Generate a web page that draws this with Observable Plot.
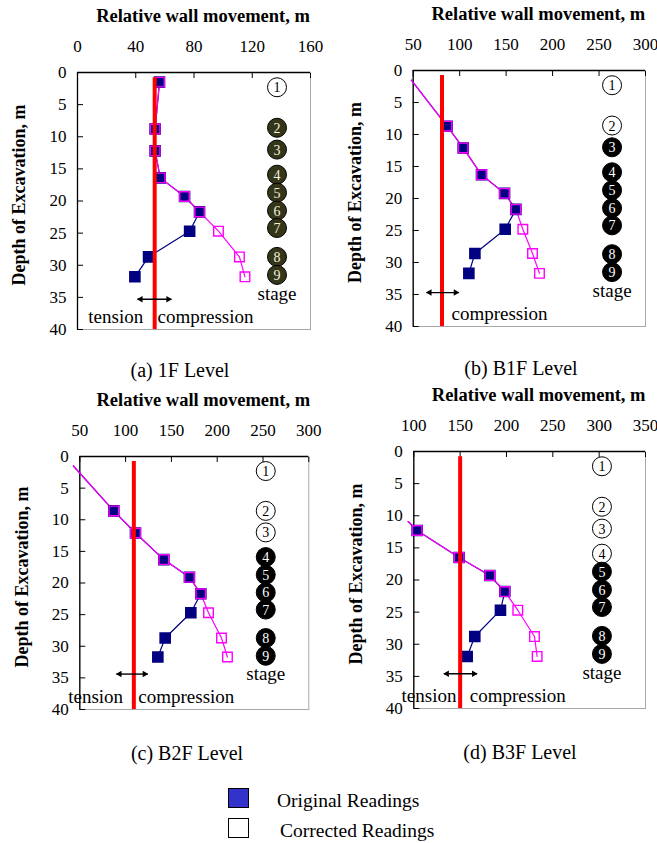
<!DOCTYPE html>
<html>
<head>
<meta charset="utf-8">
<script src="https://cdn.jsdelivr.net/npm/d3@7"></script>
<script src="https://cdn.jsdelivr.net/npm/@observablehq/plot@0.6"></script>
<style>
  html, body { margin: 0; padding: 0; background: #fff; }
  body { font-family: "Liberation Serif", "Times New Roman", serif; color: #000; }
  #wrap { position: relative; width: 657px; height: 843px; overflow: hidden; }
  .panel { position: absolute; }
  .cap { position: absolute; font-size: 20px; white-space: nowrap; transform: translate(-50%, -50%); }
  .leg { position: absolute; font-size: 19.5px; white-space: nowrap; transform: translateY(-50%); }
  .sw { position: absolute; width: 19px; height: 18px; border: 1px solid #000; }
</style>
</head>
<body>
<div id="wrap"></div>
<script>
// ---------- data ----------
const xTitle = "Relative wall movement, m";
const yTitle = "Depth of Excavation, m";
const depthTicks = [0, 5, 10, 15, 20, 25, 30, 35, 40];

const ticksA = [0, 40, 80, 120, 160];
const ticksB = [50, 100, 150, 200, 250, 300];
const ticksC = [50, 100, 150, 200, 250, 300];
const ticksD = [100, 150, 200, 250, 300, 350];

const depthA = [1.5, 8.8, 12.2, 16.4, 19.3, 21.7, 24.7, 28.7, 31.8];
const originalA = [56.3, 53.3, 53.3, 56.8, 73.5, 83.8, 77.0, 48.8, 39.4];
const correctedA = [56.3, 53.3, 53.3, 56.8, 73.5, 83.8, 96.8, 111.2, 115.0];

const depthB = [1.5, 8.7, 12.1, 16.3, 19.2, 21.7, 24.8, 28.6, 31.7];
const originalB = [48.0, 86.4, 103.8, 123.5, 148.3, 160.5, 149.0, 116.4, 109.9];
const correctedB = [48.0, 86.4, 103.8, 123.5, 148.3, 160.5, 168.0, 178.4, 185.9];

const depthC = [1.5, 8.6, 12.1, 16.3, 19.1, 21.7, 24.7, 28.7, 31.7];
const originalC = [43.0, 87.1, 110.8, 141.7, 169.7, 182.1, 171.2, 143.2, 135.2];
const correctedC = [43.0, 87.1, 110.8, 141.7, 169.7, 182.1, 190.5, 204.7, 211.2];

const depthD = [10.9, 12.3, 16.5, 19.3, 21.8, 24.7, 28.8, 31.9];
const originalD = [93.9, 103.6, 148.9, 182.0, 198.2, 193.5, 165.8, 157.6];
const correctedD = [93.9, 103.6, 148.9, 182.0, 198.2, 212.2, 230.2, 233.1];

// neutral (red) reference line per panel
const neutralValues = [53, 81, 109, 150];
const neutralTop = 0.8;

// stage markers
const stageNames = ["1", "2", "3", "4", "5", "6", "7", "8", "9"];
const stageDepth = [2.3, 8.6, 12.0, 15.9, 18.7, 21.5, 24.2, 28.7, 31.5];
const stageWordDepth = 34.4;
const stageColumn = [137, 264, 253, 303];
const firstFilledStage = [2, 3, 4, 5];

// tension / compression annotation
const arrowFrom = [41.2, 64.3, 90.0, 132.4];
const arrowTo = [64.5, 99.1, 124.2, 168.3];
const arrowDepth = [35.3, 34.7, 34.4, 34.6];
const tensionEnd = [45.1, null, 97.3, 146.0];
const compressionStart = [54.9, 91.2, 113.9, 160.4];
const annotationDepth = 38.0;

const captions = ["(a) 1F Level", "(b) B1F Level", "(c) B2F Level", "(d) B3F Level"];
const legendLabels = ["Original Readings", "Corrected Readings"];

// ---------- layout ----------
const layouts = [
  {left: 0,   top: 0,   width: 330, mL: 77,   mR: 20,   mT: 72, mB: 11, capX: 180, capY: 370},
  {left: 330, top: 0,   width: 327, mL: 82.7, mR: 12,   mT: 70, mB: 14, capX: 521, capY: 368},
  {left: 0,   top: 380, width: 330, mL: 79.3, mR: 21.7, mT: 76, mB: 11, capX: 187, capY: 753},
  {left: 330, top: 380, width: 327, mL: 83.3, mR: 12,   mT: 71, mB: 12, capX: 520, capY: 752}
];

const panels = [
  {ticks: ticksA, depth: depthA, original: originalA, corrected: correctedA, stageFill: "#35351a", stageText: "#f2f2dc"},
  {ticks: ticksB, depth: depthB, original: originalB, corrected: correctedB, stageFill: "#000", stageText: "#fff"},
  {ticks: ticksC, depth: depthC, original: originalC, corrected: correctedC, stageFill: "#000", stageText: "#fff"},
  {ticks: ticksD, depth: depthD, original: originalD, corrected: correctedD, stageFill: "#000", stageText: "#fff"}
];

const NAVY = "#000080";
const MAGENTA = "#ff00ff";
const FONT = '"Liberation Serif", "Times New Roman", serif';

const wrap = document.getElementById("wrap");

panels.forEach((p, i) => {
  const L = layouts[i];
  const domain = [p.ticks[0], p.ticks[p.ticks.length - 1]];
  const rows = p.depth.map((d, k) => ({depth: d, original: p.original[k], corrected: p.corrected[k]}));
  const shownOriginal = rows.filter(r => r.original >= domain[0]);
  const shownCorrected = rows.filter(r => r.corrected >= domain[0]);
  const stages = stageNames.map((n, k) => ({
    n, depth: stageDepth[k], x: stageColumn[i], filled: (k + 1) >= firstFilledStage[i]
  }));
  const notes = [{x: compressionStart[i], y: annotationDepth, t: "compression", a: "start"}];
  if (tensionEnd[i] != null) notes.push({x: tensionEnd[i], y: annotationDepth, t: "tension", a: "end"});
  const heads = [
    {x: arrowFrom[i], y: arrowDepth[i], rot: -90, off: 3.2},
    {x: arrowTo[i], y: arrowDepth[i], rot: 90, off: -3.2}
  ];

  const chart = Plot.plot({
    width: L.width,
    height: 340,
    marginLeft: L.mL,
    marginRight: L.mR,
    marginTop: L.mT,
    marginBottom: L.mB,
    style: {fontFamily: FONT, fontSize: "17px", color: "#000", background: "transparent", overflow: "visible"},
    x: {domain, ticks: p.ticks},
    y: {domain: [0, 40], reverse: true, ticks: depthTicks},
    marks: [
      Plot.frame({stroke: "#a8a8a8"}),
      Plot.ruleX([domain[0]], {stroke: "#000", strokeWidth: 1.3}),
      Plot.ruleY([0], {stroke: "#000", strokeWidth: 1.3}),
      Plot.axisX(p.ticks, {anchor: "top", tickSize: -5, fill: "none", label: null, stroke: "#000"}),
      Plot.axisX(p.ticks, {anchor: "top", tickSize: 0, tickPadding: 21, label: null, fontSize: 17}),
      Plot.axisY(depthTicks, {anchor: "left", tickSize: -6, fill: "none", label: null, stroke: "#000"}),
      Plot.axisY(depthTicks, {anchor: "left", tickSize: 0, tickPadding: 11, label: null, fontSize: 17}),
      Plot.text([xTitle], {frameAnchor: "top", dy: -56, dx: 9, fontWeight: "bold", fontSize: 18.5, lineAnchor: "middle"}),
      Plot.text([yTitle], {frameAnchor: "left", rotate: -90, dx: -58, dy: -6, textAnchor: "middle", fontWeight: "bold", fontSize: 18, lineAnchor: "middle"}),
      // stage markers
      Plot.dot(stages, {x: "x", y: "depth", r: 9.5, fill: d => d.filled ? p.stageFill : "#fff", stroke: "#000", strokeWidth: 1}),
      Plot.text(stages, {x: "x", y: "depth", text: "n", fontSize: 14, fill: d => d.filled ? p.stageText : "#000", dy: 0.5}),
      Plot.text(["stage"], {x: () => stageColumn[i], y: () => stageWordDepth, fontSize: 19}),
      // readings
      Plot.line(rows, {x: "original", y: "depth", stroke: NAVY, strokeWidth: 1.2}),
      Plot.line(rows, {x: "corrected", y: "depth", stroke: MAGENTA, strokeWidth: 1.2}),
      Plot.dot(shownOriginal, {x: "original", y: "depth", symbol: "square", r: 5.7, fill: NAVY, stroke: NAVY}),
      Plot.dot(shownCorrected, {x: "corrected", y: "depth", symbol: "square", r: 5.4, fill: "none", stroke: MAGENTA, strokeWidth: 1.4}),
      // neutral line
      Plot.ruleX([neutralValues[i]], {y1: neutralTop, y2: 40, stroke: "#ff0000", strokeWidth: 4}),
      // annotation: double-headed arrow
      Plot.link([0], {x1: () => arrowFrom[i], x2: () => arrowTo[i], y1: () => arrowDepth[i], y2: () => arrowDepth[i],
        stroke: "#000", strokeWidth: 1.4}),
      Plot.dot(heads.slice(0, 1), {x: "x", y: "y", symbol: "triangle", r: 2.4, rotate: -90, fill: "#000", stroke: "none", dx: 3.2}),
      Plot.dot(heads.slice(1), {x: "x", y: "y", symbol: "triangle", r: 2.4, rotate: 90, fill: "#000", stroke: "none", dx: -3.2}),
      Plot.text(notes, {x: "x", y: "y", text: "t", textAnchor: "start", fontSize: 19, filter: d => d.a === "start"}),
      Plot.text(notes, {x: "x", y: "y", text: "t", textAnchor: "end", fontSize: 19, filter: d => d.a === "end"})
    ]
  });
  const div = document.createElement("div");
  div.className = "panel";
  div.style.left = L.left + "px";
  div.style.top = L.top + "px";
  div.appendChild(chart);
  wrap.appendChild(div);

  const cap = document.createElement("div");
  cap.className = "cap";
  cap.style.left = L.capX + "px";
  cap.style.top = L.capY + "px";
  cap.textContent = captions[i];
  wrap.appendChild(cap);
});

// legend
const legendFills = ["#3333cc", "#fff"];
const legendRows = [{sq: 788, tx: 277, ty: 801}, {sq: 818, tx: 280, ty: 831}];
legendLabels.forEach((lab, k) => {
  const sw = document.createElement("div");
  sw.className = "sw";
  sw.style.left = "228px";
  sw.style.top = legendRows[k].sq + "px";
  sw.style.background = legendFills[k];
  wrap.appendChild(sw);
  const t = document.createElement("div");
  t.className = "leg";
  t.style.left = legendRows[k].tx + "px";
  t.style.top = legendRows[k].ty + "px";
  t.textContent = lab;
  wrap.appendChild(t);
});
</script>
</body>
</html>
